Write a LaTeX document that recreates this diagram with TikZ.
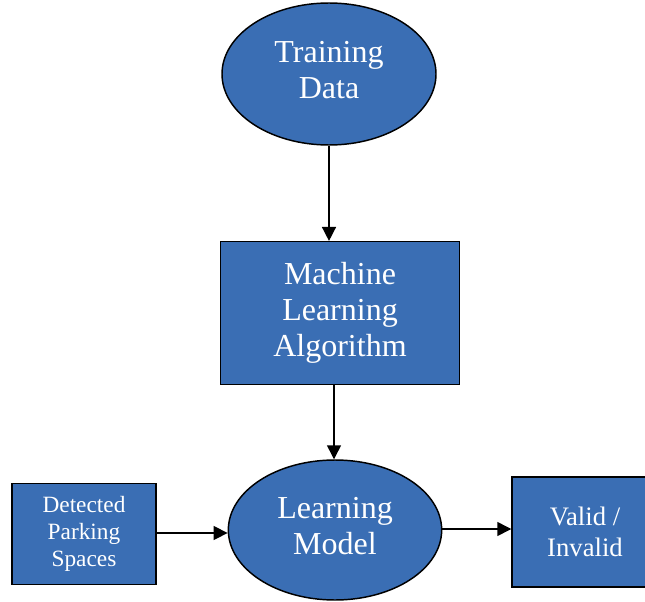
\documentclass[tikz,border=0pt]{standalone}
\usepackage{fontspec}
\setmainfont{Liberation Serif}
\usetikzlibrary{shapes.geometric,arrows.meta}
\definecolor{boxblue}{RGB}{58,110,180}
\tikzset{
  x=0.75pt, y=-0.75pt,
  blk/.style={draw=black, line width=1.1pt, fill=boxblue, text=white,
    align=center, inner sep=0pt},
  oval/.style={blk, ellipse},
  rectbox/.style={blk, rectangle},
  caption/.style={text=white, align=center, inner sep=0pt},
  bigtext/.style={font=\fontsize{24}{27}\selectfont},
  smalltext/.style={font=\fontsize{17.5}{20.5}\selectfont},
  midtext/.style={font=\fontsize{20}{23}\selectfont},
  flow/.style={draw=black, line width=1.1pt, -{Triangle[length=10.5pt,width=10.5pt]}}
}
\begin{document}
\begin{tikzpicture}
\useasboundingbox (0,0) rectangle (645,602);
\clip (0,0) rectangle (645,602);
% process nodes
\node[oval, minimum width=160.5pt, minimum height=106.5pt] (train) at (329,74) {};
\node[caption, bigtext] (traintext) at ([yshift=3pt]train.center) {Training\\Data};
\node[rectbox, bigtext, minimum width=179pt, minimum height=107pt] (algo) at (340,313) {Machine\\Learning\\Algorithm};
\node[oval, minimum width=160pt, minimum height=105pt] (model) at (335,530) {};
\node[caption, bigtext] (modeltext) at ([yshift=3pt]model.center) {Learning\\Model};
\node[rectbox, smalltext, minimum width=108pt, minimum height=75.75pt] (spaces) at (84,534) {Detected\\Parking\\Spaces};
\node[rectbox, midtext, minimum width=109.5pt, minimum height=82.5pt] (valid) at (585,532) {Valid /\\Invalid};
% connectors
\draw[flow] (train.south -| 329,0) -- (algo.north -| 329,0);
\draw[flow] (algo.south -| 334,0) -- (model.north -| 334,0);
\draw[flow] (spaces.east |- 0,533) -- (model.west |- 0,533);
\draw[flow] (model.east |- 0,529) -- (valid.west |- 0,529);
\end{tikzpicture}
\end{document}
